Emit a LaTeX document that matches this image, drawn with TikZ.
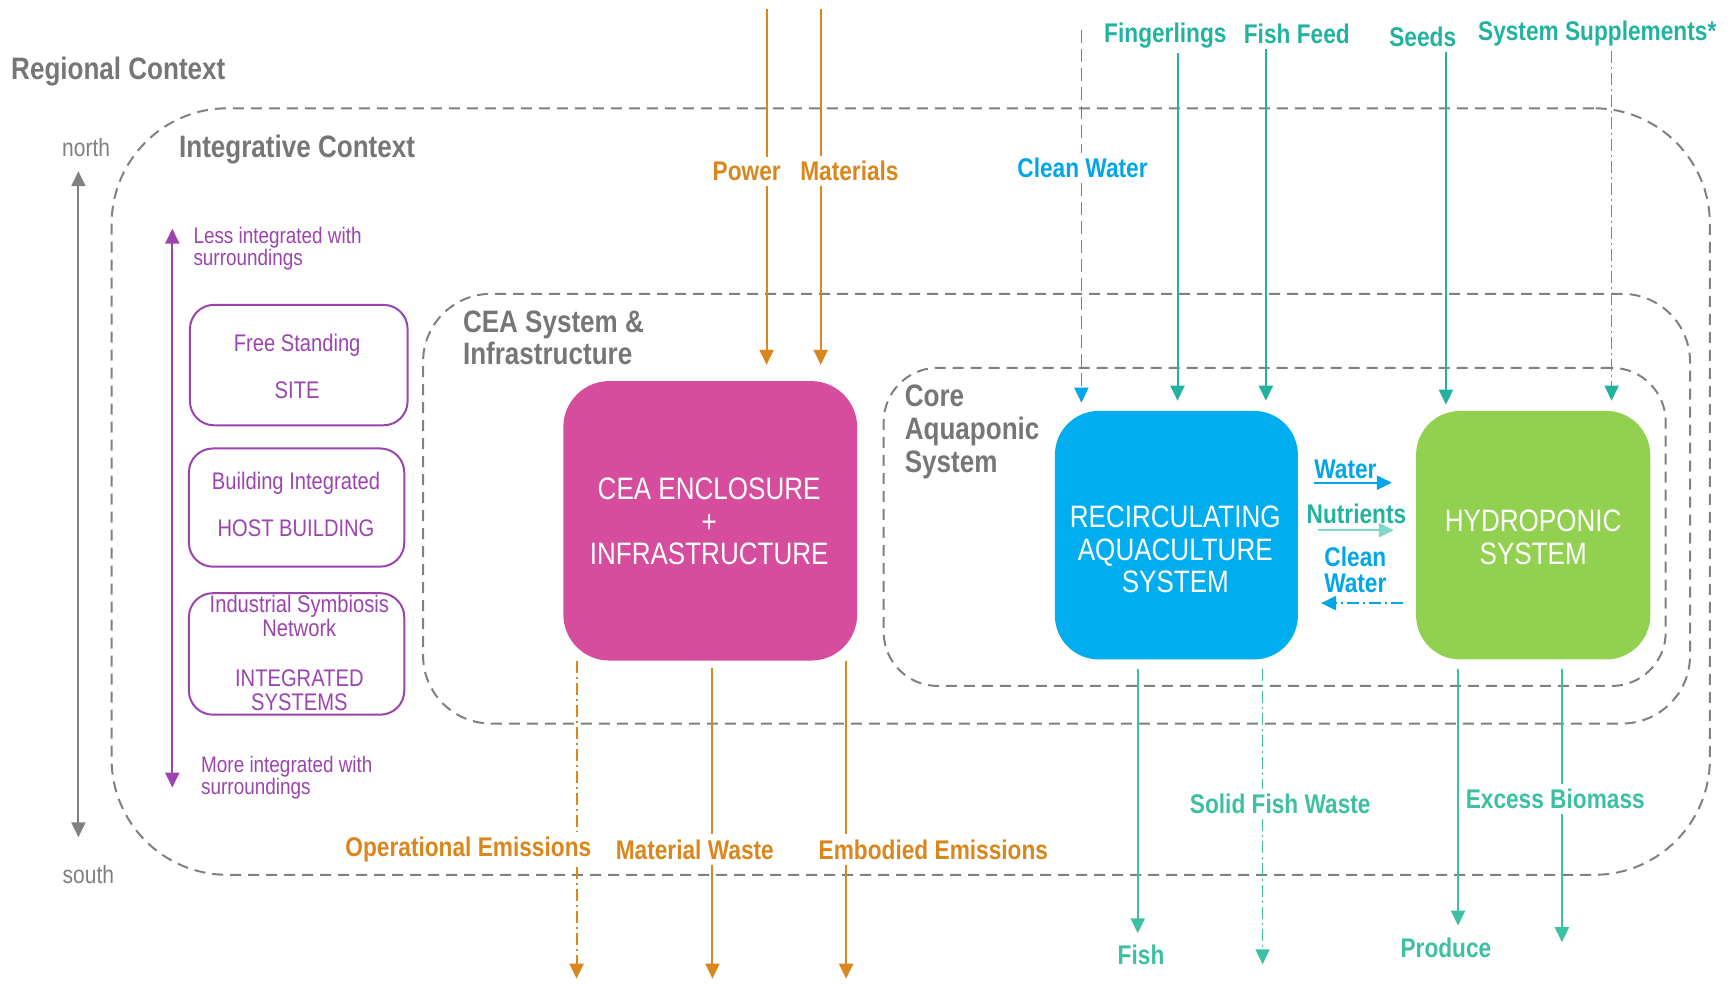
\documentclass[tikz,border=0pt]{standalone}
\usepackage{fontspec}
\setmainfont{Liberation Sans}[FakeStretch=0.84]
\usetikzlibrary{arrows.meta,fit}

\definecolor{ctxgray}{HTML}{767676}
\definecolor{zonegray}{HTML}{808080}
\definecolor{purp}{HTML}{9B44AE}
\definecolor{ceapink}{HTML}{D64D9E}
\definecolor{rasblue}{HTML}{00AEEF}
\definecolor{hydgreen}{HTML}{92D050}
\definecolor{orng}{HTML}{D9861C}
\definecolor{flowteal}{HTML}{22B3A0}
\definecolor{outteal}{HTML}{3DBFA2}
\definecolor{wblue}{HTML}{00A6E8}
\definecolor{nutteal}{HTML}{7ED8C6}

\begin{document}
\begin{tikzpicture}[x=1.1046pt,y=-1.1046pt,
  title/.style={font=\bfseries\fontsize{31}{32}\selectfont, text=ctxgray, inner sep=0pt, align=left},
  zone/.style={draw=zonegray, line width=2pt, dash pattern=on 11pt off 7pt, inner sep=0pt},
  optbox/.style={draw=purp, line width=2pt, rounded corners=24pt, inner sep=0pt},
  opttxt/.style={text=purp, align=center, inner sep=0pt},
  sysbox/.style={rounded corners=46pt, inner sep=0pt, draw=none},
  systxt/.style={text=white, align=center, font=\fontsize{31}{32.5}\selectfont},
  flowlbl/.style={font=\bfseries\fontsize{27}{28}\selectfont, inner sep=5pt},
  flow/.style={line width=2pt},
  tip/.style={-{Triangle[width=14pt,length=15pt]}},
  dashdot/.style={dash pattern=on 12pt off 4pt on 2pt off 4pt},
  longdash/.style={dash pattern=on 13pt off 6pt}
]
\useasboundingbox (0,0) rectangle (1568,890);

% ---- nested context zones ----
\node[zone, rounded corners=116pt, fit={(101,98) (1548,792)}] (integ) {};
\node[zone, rounded corners=68pt, fit={(383,266) (1530,655)}] (ceazone) {};
\node[zone, rounded corners=54pt, fit={(800,333) (1508,621)}] (corezone) {};

% ---- zone titles ----
\node[title, anchor=west] (regional) at (10,65) {Regional Context};
\node[title, anchor=west] (integtitle) at (162,135) {Integrative Context};
\node[title, anchor=west] (ceatitle) at (419,305.5) {CEA System \&\\Infrastructure};
\node[title, anchor=west, font=\bfseries\fontsize{31}{33}\selectfont] (coretitle) at (819,391) {Core\\Aquaponic\\System};

% ---- north / south axis ----
\node[font=\fontsize{25}{26}\selectfont, text=zonegray, inner sep=0pt] (north) at (78,134) {north};
\node[font=\fontsize{25}{26}\selectfont, text=zonegray, inner sep=0pt] (south) at (80,792) {south};
\coordinate (nsN) at (71,155);
\coordinate (nsS) at (71,758);
\draw[line width=2pt, zonegray, {Triangle[width=14pt,length=15pt]}-{Triangle[width=14pt,length=15pt]}] (nsN) -- (nsS);

% ---- integration scale ----
\coordinate (piT) at (156,207);
\coordinate (piB) at (156,713);
\draw[line width=2pt, purp, {Triangle[width=14pt,length=15pt]}-{Triangle[width=14pt,length=15pt]}] (piT) -- (piB);
\node[text=purp, font=\fontsize{22.5}{22}\selectfont, align=left, anchor=west, inner sep=0pt] (lessint) at (175,225) {Less integrated with\\surroundings};
\node[text=purp, font=\fontsize{22.5}{22}\selectfont, align=left, anchor=west, inner sep=0pt] (moreint) at (182,704) {More integrated with\\surroundings};

\node[optbox, fit={(172,276) (369,385)}] (site) {};
\node[opttxt, font=\fontsize{24}{47.5}\selectfont] (sitetxt) at (269,331.5) {Free Standing\\SITE};
\node[optbox, fit={(171,406) (366,513)}] (host) {};
\node[opttxt, font=\fontsize{24}{47.5}\selectfont] (hosttxt) at (268,456.5) {Building Integrated\\HOST BUILDING};
\node[optbox, fit={(171,537) (366,647)}] (isn) {};
\node[opttxt, font=\fontsize{24}{24.3}\selectfont] (isntxt) at (271,591) {Industrial Symbiosis\\Network\\[25pt]INTEGRATED\\SYSTEMS};

% ---- system blocks ----
\node[sysbox, fill=ceapink, fit={(510,345) (776,598)}] (cea) {};
\node[systxt] (ceatxt) at (642,472) {CEA ENCLOSURE\\+\\INFRASTRUCTURE};
\node[sysbox, fill=rasblue, rounded corners=44pt, fit={(955,372) (1175,597)}] (ras) {};
\node[systxt] (rastxt) at (1064,497.5) {RECIRCULATING\\AQUACULTURE\\SYSTEM};
\node[sysbox, fill=hydgreen, rounded corners=44pt, fit={(1282,372) (1494,597)}] (hyd) {};
\node[systxt] (hydtxt) at (1388,486.5) {HYDROPONIC\\SYSTEM};

% ---- enclosure inputs ----
\node[flowlbl, text=orng] (pwl) at (676,155) {Power};
\node[flowlbl, text=orng] (mtl) at (769,155) {Materials};
\coordinate (pw0) at (694,8);
\coordinate (mt0) at (743,8);
\draw[flow, orng] (pw0) -- (pw0 |- pwl.north);
\draw[flow, orng, tip, shorten >=16pt] (pw0 |- pwl.south) -- (pw0 |- cea.north);
\draw[flow, orng] (mt0) -- (mt0 |- mtl.north);
\draw[flow, orng, tip, shorten >=16pt] (mt0 |- mtl.south) -- (mt0 |- cea.north);

% ---- enclosure outputs ----
\node[flowlbl, text=orng] (oel) at (424,769) {Operational Emissions};
\node[flowlbl, text=orng] (mwl) at (629,769) {Material Waste};
\node[flowlbl, text=orng] (eel) at (845,769) {Embodied Emissions};
\coordinate (oex) at (522,886);
\coordinate (mwx) at (645,886);
\coordinate (eex) at (766,886);
\draw[flow, orng, dashdot] (cea.south -| oex) -- (oex |- oel.north);
\draw[flow, orng, dashdot, tip] (oex |- oel.south) -- (oex);
\draw[flow, orng, shorten <=7pt] (cea.south -| mwx) -- (mwx |- mwl.north);
\draw[flow, orng, tip] (mwx |- mwl.south) -- (mwx);
\draw[flow, orng] (cea.south -| eex) -- (eex |- eel.north);
\draw[flow, orng, tip] (eex |- eel.south) -- (eex);

% ---- aquaponic inputs ----
\node[flowlbl, text=wblue] (cwl) at (980,152) {Clean Water};
\node[flowlbl, text=flowteal] (fgl) at (1055,32) {Fingerlings};
\node[flowlbl, text=flowteal] (ffl) at (1174,31) {Fish Feed};
\node[flowlbl, text=flowteal] (sdl) at (1288,33) {Seeds};
\node[flowlbl, text=flowteal] (ssl) at (1446,30) {System Supplements*};
\coordinate (cw0) at (979,27);
\coordinate (fgx) at (1066,0);
\coordinate (ffx) at (1146,0);
\coordinate (sdx) at (1309,0);
\coordinate (ssx) at (1459,0);
\draw[line width=1.7pt, wblue, longdash] (cw0) -- (cw0 |- cwl.north);
\draw[line width=1.7pt, wblue, longdash, tip, shorten >=8pt] (cw0 |- cwl.south) -- (cw0 |- ras.north);
\draw[flow, flowteal, tip, shorten >=10pt] (fgl.south -| fgx) -- (fgx |- ras.north);
\draw[flow, flowteal, tip, shorten >=10pt] (ffl.south -| ffx) -- (ffx |- ras.north);
\draw[flow, flowteal, tip, shorten >=6pt] (sdl.south -| sdx) -- (sdx |- hyd.north);
\draw[line width=1.7pt, flowteal, dashdot, tip, shorten >=10pt] (ssl.south -| ssx) -- (ssx |- hyd.north);

% ---- aquaponic outputs ----
\node[flowlbl, text=outteal] (fishl) at (1033,864) {Fish};
\node[flowlbl, text=outteal] (sfwl) at (1159,728) {Solid Fish Waste};
\node[flowlbl, text=outteal] (prl) at (1309,858) {Produce};
\node[flowlbl, text=outteal] (ebl) at (1408,723) {Excess Biomass};
\coordinate (fishx) at (1030,0);
\coordinate (sfwx) at (1143,873);
\coordinate (prx) at (1320,0);
\coordinate (ebx) at (1414,853);
\draw[flow, outteal, tip, shorten <=9pt, shorten >=6pt] (ras.south -| fishx) -- (fishx |- fishl.north);
\draw[line width=1.7pt, outteal, dashdot, shorten <=9pt] (ras.south -| sfwx) -- (sfwx |- sfwl.north);
\draw[line width=1.7pt, outteal, dashdot, tip] (sfwx |- sfwl.south) -- (sfwx);
\draw[flow, outteal, tip, shorten <=9pt, shorten >=7pt] (hyd.south -| prx) -- (prx |- prl.north);
\draw[flow, outteal, shorten <=9pt] (hyd.south -| ebx) -- (ebx |- ebl.north);
\draw[flow, outteal, tip] (ebx |- ebl.south) -- (ebx);

% ---- exchange between fish and plant loops ----
\node[flowlbl, text=wblue] (wtl) at (1218,425) {Water};
\node[flowlbl, text=flowteal] (nutl) at (1228,465) {Nutrients};
\node[flowlbl, text=wblue, align=center, font=\bfseries\fontsize{27}{26.5}\selectfont] (cwrl) at (1227,516) {Clean\\Water};
\draw[flow, wblue, tip, shorten <=16pt, shorten >=24pt] (ras.east |- 0,437) -- (hyd.west |- 0,437);
\draw[flow, nutteal, tip, shorten <=20pt, shorten >=22pt] (ras.east |- 0,480) -- (hyd.west |- 0,480);
\draw[flow, wblue, dashdot, tip, shorten <=13pt, shorten >=23pt] (hyd.west |- 0,546) -- (ras.east |- 0,546);

\end{tikzpicture}
\end{document}
